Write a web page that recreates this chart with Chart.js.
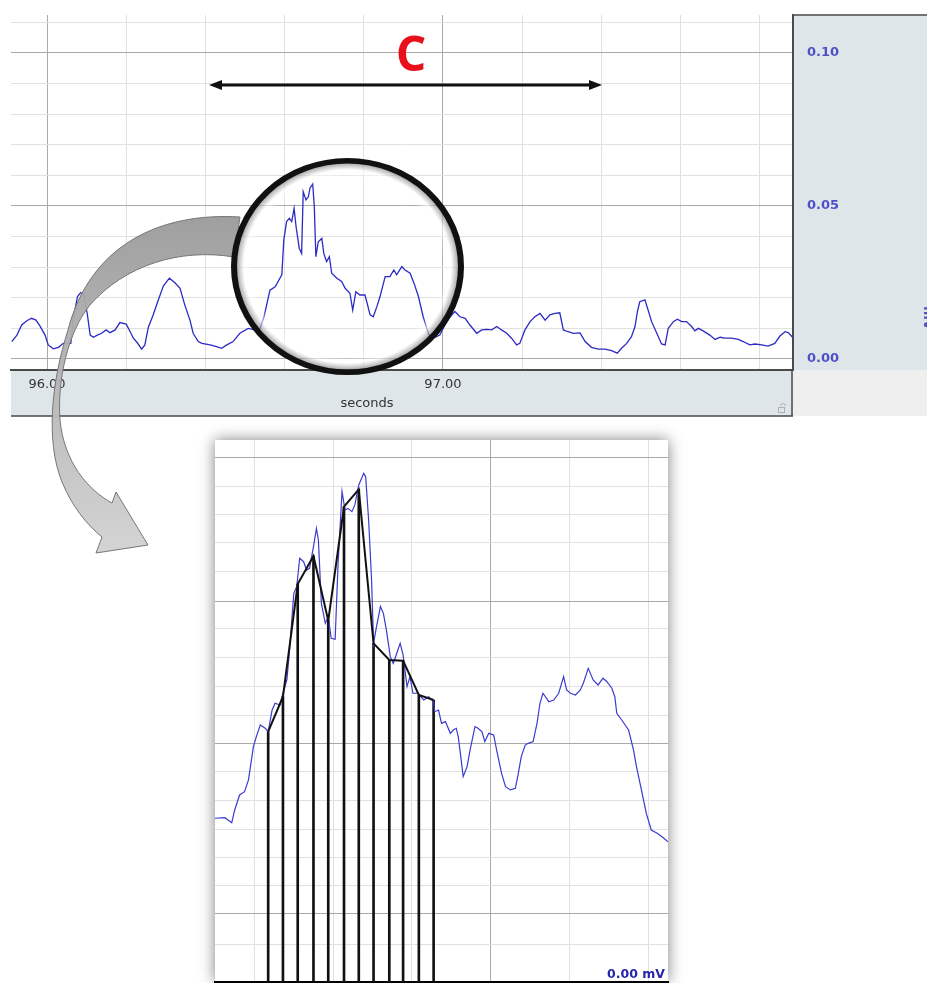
<!DOCTYPE html>
<html>
<head>
<meta charset="utf-8">
<script src="https://cdn.jsdelivr.net/npm/chart.js@4.4.1/dist/chart.umd.min.js"></script>
<style>
    html, body { margin: 0; padding: 0; background: #fff; }
    #wrap { position: relative; width: 927px; height: 983px; overflow: hidden; }
    #main { position: absolute; left: 0; top: 0; }
    #zoom { position: absolute; left: 195px; top: 420px; }
</style>
</head>
<body>
<div id="wrap">
    <canvas id="main" width="927" height="983" style="width:927px;height:983px"></canvas>
    <canvas id="zoom" width="493" height="563" style="width:493px;height:563px"></canvas>
</div>
<script>
// recording, seconds / mV
const topTime = [95.911, 95.924, 95.936, 95.949, 95.961, 95.972, 95.982, 95.995, 96.003, 96.016, 96.029, 96.041, 96.060, 96.068, 96.077, 96.085, 96.093, 96.102, 96.109, 96.117, 96.127, 96.138, 96.149, 96.159, 96.172, 96.184, 96.200, 96.210, 96.218, 96.228, 96.239, 96.247, 96.256, 96.268, 96.281, 96.294, 96.309, 96.323, 96.336, 96.348, 96.361, 96.369, 96.382,
    96.391, 96.412, 96.428, 96.441, 96.454, 96.470, 96.487, 96.508, 96.525, 96.538, 96.548, 96.563, 96.576, 96.593, 96.598, 96.605, 96.612, 96.618, 96.624, 96.629, 96.637, 96.643, 96.647, 96.654, 96.660, 96.664, 96.671, 96.675, 96.679, 96.685, 96.694, 96.699, 96.706, 96.713, 96.719, 96.732, 96.744, 96.753, 96.765, 96.772, 96.780, 96.790, 96.803, 96.816, 96.824, 96.833, 96.841, 96.854, 96.866, 96.876, 96.883, 96.896, 96.904, 96.917, 96.927, 96.938, 96.950, 96.963,
    96.967, 96.980, 96.992, 97.005, 97.018, 97.030, 97.043, 97.056, 97.068, 97.085, 97.098, 97.110, 97.123, 97.136, 97.148, 97.161, 97.173, 97.186, 97.194, 97.207, 97.220, 97.232, 97.245, 97.258, 97.270, 97.283, 97.295, 97.304, 97.316, 97.329, 97.346,
    97.359, 97.375, 97.392, 97.409, 97.426, 97.440, 97.451, 97.464, 97.476, 97.485, 97.491, 97.497, 97.510, 97.518, 97.527, 97.540, 97.552, 97.561, 97.569, 97.582, 97.592, 97.603, 97.615, 97.628, 97.636, 97.645, 97.657, 97.674, 97.687, 97.700, 97.712, 97.729, 97.746, 97.758, 97.775, 97.788, 97.805, 97.821, 97.838, 97.851, 97.864, 97.872, 97.883];
const topVolt = [0.0057, 0.0078, 0.0111, 0.0125, 0.0133, 0.0127, 0.0108, 0.0078, 0.0046, 0.0033, 0.0038, 0.0051, 0.0051, 0.0144, 0.0204, 0.0217, 0.0209, 0.0144, 0.0078, 0.0071, 0.0078, 0.0084, 0.0095, 0.0086, 0.0095, 0.0119, 0.0114, 0.0089, 0.0068, 0.0053, 0.0032, 0.0046, 0.0104, 0.0144, 0.0193, 0.0239, 0.0264, 0.0249, 0.0231, 0.0176, 0.0127, 0.0084, 0.0057,
    0.0051, 0.0046, 0.0040, 0.0035, 0.0046, 0.0057, 0.0084, 0.0100, 0.0095, 0.0100, 0.0138, 0.0225, 0.0236, 0.0275, 0.0389, 0.0449, 0.0460, 0.0449, 0.0492, 0.0432, 0.0362, 0.0345, 0.0547, 0.0520, 0.0530, 0.0558, 0.0572, 0.0498, 0.0334, 0.0383, 0.0394, 0.0345, 0.0318, 0.0334, 0.0280, 0.0264, 0.0253, 0.0231, 0.0215, 0.0160, 0.0220, 0.0209, 0.0209, 0.0144, 0.0138, 0.0171, 0.0204, 0.0269, 0.0269, 0.0291, 0.0275, 0.0302, 0.0291, 0.0280, 0.0247, 0.0204, 0.0138, 0.0084,
    0.0075, 0.0071, 0.0078, 0.0111, 0.0138, 0.0155, 0.0138, 0.0133, 0.0111, 0.0084, 0.0095, 0.0097, 0.0095, 0.0106, 0.0095, 0.0084, 0.0068, 0.0046, 0.0051, 0.0095, 0.0122, 0.0138, 0.0149, 0.0127, 0.0144, 0.0149, 0.0151, 0.0095, 0.0089, 0.0084, 0.0085,
    0.0057, 0.0038, 0.0032, 0.0032, 0.0027, 0.0019, 0.0035, 0.0051, 0.0073, 0.0106, 0.0155, 0.0187, 0.0193, 0.0160, 0.0122, 0.0084, 0.0049, 0.0046, 0.0100, 0.0122, 0.0130, 0.0122, 0.0122, 0.0106, 0.0092, 0.0100, 0.0092, 0.0078, 0.0064, 0.0071, 0.0068, 0.0068, 0.0064, 0.0057, 0.0046, 0.0049, 0.0046, 0.0042, 0.0051, 0.0075, 0.0089, 0.0086, 0.0071];

const xGrid = [96.0, 96.2, 96.4, 96.6, 96.8, 97.0, 97.2, 97.4, 97.6, 97.8];
const xLabelTicks = [96.0, 97.0];
const yGrid = [0, 0.01, 0.02, 0.03, 0.04, 0.05, 0.06, 0.07, 0.08, 0.09, 0.10, 0.11];
const yLabelTicks = [0, 0.05, 0.10];

// zoomed excerpt
const insetTime = [96.520, 96.530, 96.537, 96.540, 96.545, 96.550, 96.554, 96.559, 96.562, 96.566, 96.571, 96.574, 96.578, 96.581, 96.586, 96.589, 96.593, 96.596, 96.600, 96.603, 96.606, 96.610, 96.613, 96.616, 96.620, 96.623, 96.625, 96.628, 96.632, 96.635, 96.638, 96.642, 96.645, 96.649, 96.652, 96.655, 96.659, 96.662, 96.666, 96.671, 96.673, 96.676, 96.679, 96.681, 96.684, 96.688, 96.691, 96.694, 96.698, 96.701, 96.704, 96.708, 96.711, 96.715, 96.718, 96.721, 96.726, 96.732, 96.737, 96.742, 96.743, 96.747, 96.750, 96.754, 96.759, 96.762, 96.765, 96.767, 96.770, 96.772, 96.776, 96.779, 96.784, 96.787, 96.791, 96.794, 96.798, 96.803, 96.806, 96.811, 96.815, 96.820, 96.825, 96.828, 96.831, 96.835, 96.838, 96.843, 96.847, 96.850, 96.853, 96.859, 96.864, 96.869, 96.874, 96.877, 96.881, 96.886, 96.891, 96.894, 96.899, 96.904, 96.909, 96.914, 96.918, 96.923, 96.926, 96.928, 96.933, 96.940, 96.945, 96.948, 96.953, 96.958, 96.963, 96.969, 96.974, 96.980];
const insetVolt = [0.01145, 0.01149, 0.01114, 0.01203, 0.01308, 0.01331, 0.01413, 0.01646, 0.01716, 0.01797, 0.01774, 0.01751, 0.01902, 0.01949, 0.01937, 0.02019, 0.02112, 0.02345, 0.02718, 0.02765, 0.02963, 0.02939, 0.02881, 0.02893, 0.03044, 0.03172, 0.03091, 0.02648, 0.02508, 0.02555, 0.02403, 0.02396, 0.02928, 0.03429, 0.03301, 0.03312, 0.03289, 0.03336, 0.03476, 0.03557, 0.03534, 0.03231, 0.02811, 0.02368, 0.02485, 0.02625, 0.02578, 0.02462, 0.02275, 0.02228, 0.02287, 0.02368, 0.02287, 0.02065, 0.02135, 0.02019, 0.02019, 0.01972, 0.01995, 0.01960, 0.01890, 0.01902, 0.01809, 0.01821, 0.01739, 0.01762, 0.01774, 0.01716, 0.01552, 0.01436, 0.01506, 0.01622, 0.01786, 0.01774, 0.01751, 0.01681, 0.01739, 0.01727, 0.01622, 0.01459, 0.01366, 0.01343, 0.01354, 0.01459, 0.01576, 0.01657, 0.01669, 0.01681, 0.01809, 0.01949, 0.02019, 0.01960, 0.01972, 0.02019, 0.02135, 0.02042, 0.02019, 0.02007, 0.02042, 0.02089, 0.02193, 0.02112, 0.02077, 0.02124, 0.02100, 0.02054, 0.01995, 0.01879, 0.01832, 0.01762, 0.01622, 0.01506, 0.01343, 0.01179, 0.01063, 0.01040, 0.01016, 0.00981];

// sampled points (black polyline + verticals)
const sampleTime = [96.574, 96.589, 96.604, 96.620, 96.635, 96.651, 96.666, 96.681, 96.697, 96.711, 96.727, 96.742];
const sampleVolt = [0.01751, 0.01995, 0.02783, 0.02979, 0.02527, 0.03324, 0.03445, 0.02368, 0.02252, 0.02247, 0.02007, 0.01972];

const insetXGrid = [96.56, 96.64, 96.72, 96.80, 96.88, 96.96];
const insetXMajor = [96.80];
const insetYGrid = [0.00259, 0.00476, 0.00678, 0.00874, 0.01063, 0.01266, 0.01469, 0.01671, 0.01867, 0.02063, 0.02266, 0.02469, 0.02664, 0.02867, 0.03070, 0.03266, 0.03462, 0.03671];
const insetYMajor = [0.00476, 0.01671, 0.02664, 0.03671];

const has = (arr, v) => arr.some(a => Math.abs(a - v) < 1e-7);
const MINOR = '#e1e1e1', MAJOR = '#a9a9a9';
const BLUE_TXT = '#4f4fc8';
const FONT = 'DejaVu Sans';

// --- overlay drawing for the top chart
function drawBand(ctx) {
    ctx.save();
    ctx.beginPath();
    ctx.moveTo(240, 217);
    ctx.bezierCurveTo(160, 212, 90, 245, 68, 330);
    ctx.bezierCurveTo(52, 380, 45, 440, 62, 482);
    ctx.bezierCurveTo(72, 506, 86, 524, 102, 537);
    ctx.lineTo(96, 553);
    ctx.lineTo(148, 545);
    ctx.lineTo(116, 492);
    ctx.lineTo(112, 503);
    ctx.bezierCurveTo(88, 490, 64, 462, 60, 420);
    ctx.bezierCurveTo(57, 380, 68, 332, 90, 305);
    ctx.bezierCurveTo(125, 265, 180, 248, 234, 257);
    ctx.closePath();
    const g = ctx.createLinearGradient(0, 215, 0, 555);
    g.addColorStop(0, '#9a9a9a');
    g.addColorStop(1, '#d2d2d2');
    ctx.globalAlpha = 0.95;
    ctx.fillStyle = g;
    ctx.fill();
    ctx.globalAlpha = 1;
    ctx.strokeStyle = '#777';
    ctx.lineWidth = 1;
    ctx.stroke();
    ctx.restore();
}

function drawLens(ctx) {
    const cx = 347.5, cy = 266.5, rx = 116.5, ry = 108.5;
    ctx.save();
    ctx.translate(cx, cy);
    ctx.scale(1, ry / rx);
    const r = rx - 3;
    const g = ctx.createRadialGradient(0, 0, r - 20, 0, 0, r);
    g.addColorStop(0, 'rgba(255,255,255,0)');
    g.addColorStop(0.5, 'rgba(255,255,255,0.6)');
    g.addColorStop(0.8, 'rgba(150,150,150,0.65)');
    g.addColorStop(1, 'rgba(50,50,50,0.95)');
    ctx.fillStyle = g;
    ctx.beginPath();
    ctx.arc(0, 0, r, 0, Math.PI * 2);
    ctx.fill();
    ctx.lineWidth = 6;
    ctx.strokeStyle = '#111';
    ctx.beginPath();
    ctx.arc(0, 0, r, 0, Math.PI * 2);
    ctx.stroke();
    ctx.restore();
}

function drawSpanArrow(ctx) {
    const y = 85, x0 = 209, x1 = 602;
    ctx.save();
    ctx.strokeStyle = '#111';
    ctx.fillStyle = '#111';
    ctx.lineWidth = 3;
    ctx.beginPath();
    ctx.moveTo(x0 + 8, y);
    ctx.lineTo(x1 - 8, y);
    ctx.stroke();
    ctx.beginPath();
    ctx.moveTo(x0, y); ctx.lineTo(x0 + 13, y - 5); ctx.lineTo(x0 + 13, y + 5); ctx.closePath();
    ctx.fill();
    ctx.beginPath();
    ctx.moveTo(x1, y); ctx.lineTo(x1 - 13, y - 5); ctx.lineTo(x1 - 13, y + 5); ctx.closePath();
    ctx.fill();
    ctx.font = 'bold 48px "Open Sans"';
    ctx.fillStyle = '#e8101a';
    ctx.textAlign = 'center';
    ctx.textBaseline = 'alphabetic';
    ctx.fillText('C', 411, 71);
    ctx.restore();
}

const panels = {
    id: 'panels',
    beforeDraw(chart) {
        const ctx = chart.ctx;
        const a = chart.chartArea;
        ctx.save();
        ctx.fillStyle = '#fff';
        ctx.fillRect(0, 0, chart.width, chart.height);
        ctx.fillStyle = '#dfe6e9';
        ctx.fillRect(a.left, a.bottom, a.right - a.left, 46);
        ctx.fillRect(a.right, a.top, chart.width - a.right, a.bottom - a.top);
        ctx.fillStyle = '#efefef';
        ctx.fillRect(a.right, a.bottom, chart.width - a.right, 46);
        ctx.strokeStyle = '#4a4a4a';
        ctx.lineWidth = 1.5;
        ctx.beginPath();
        ctx.moveTo(a.left, a.bottom + 46); ctx.lineTo(a.right, a.bottom + 46);
        ctx.moveTo(a.right - 1, a.bottom); ctx.lineTo(a.right - 1, a.bottom + 46);
        ctx.moveTo(a.right, a.top); ctx.lineTo(chart.width, a.top);
        ctx.stroke();
        ctx.restore();
    },
    afterDraw(chart) {
        const ctx = chart.ctx;
        ctx.save();
        ctx.fillStyle = '#333';
        ctx.font = '13px "' + FONT + '"';
        ctx.textAlign = 'center';
        ctx.textBaseline = 'middle';
        ctx.fillText('seconds', 367, 404);
        // axis unit, mostly off the edge
        ctx.translate(927, 318);
        ctx.rotate(Math.PI / 2);
        ctx.fillStyle = BLUE_TXT;
        ctx.font = 'bold 13px "' + FONT + '"';
        ctx.fillText('mV', 0, 0);
        ctx.restore();
        // tiny lock glyph
        ctx.save();
        ctx.strokeStyle = '#b0b0b0';
        ctx.lineWidth = 1;
        ctx.strokeRect(778.5, 407.5, 6, 5);
        ctx.beginPath();
        ctx.arc(783, 406, 2.5, Math.PI, 0);
        ctx.stroke();
        ctx.restore();

        drawBand(ctx);
        drawLens(ctx);
        drawSpanArrow(ctx);
    }
};

new Chart(document.getElementById('main'), {
    type: 'line',
    data: {
        datasets: [{
            data: topTime.map((t, i) => ({ x: t, y: topVolt[i] })),
            borderColor: '#2b2bc4',
            borderWidth: 1.3,
            pointRadius: 0,
            tension: 0
        }]
    },
    options: {
        responsive: false,
        animation: false,
        events: [],
        layout: { padding: { left: 11, top: 15, right: 0, bottom: 567 } },
        plugins: { legend: { display: false }, tooltip: { enabled: false } },
        scales: {
            x: {
                type: 'linear',
                min: 95.909,
                max: 97.884,
                offset: false,
                afterBuildTicks: s => { s.ticks = xGrid.map(v => ({ value: v })); },
                afterFit: s => { s.height = 46; s.paddingLeft = 0; s.paddingRight = 0; },
                grid: {
                    drawTicks: false,
                    color: c => has(xLabelTicks, c.tick.value) ? MAJOR : MINOR
                },
                border: { display: true, color: '#4a4a4a', width: 2 },
                ticks: {
                    autoSkip: false,
                    maxRotation: 0,
                    padding: 7,
                    color: '#333',
                    font: { family: FONT, size: 13 },
                    callback: v => has(xLabelTicks, v) ? v.toFixed(2) : ''
                }
            },
            y: {
                type: 'linear',
                position: 'right',
                min: -0.0036,
                max: 0.1124,
                afterBuildTicks: s => { s.ticks = yGrid.map(v => ({ value: v })); },
                // keep label overflow from pushing the plot down
                afterFit: s => { s.width = 134; s.paddingTop = 0; s.paddingBottom = 0; },
                grid: {
                    drawTicks: false,
                    color: c => has(yLabelTicks, c.tick.value) ? MAJOR : MINOR
                },
                border: { display: true, color: '#4a4a4a', width: 2 },
                ticks: {
                    autoSkip: false,
                    padding: 14,
                    color: BLUE_TXT,
                    font: { family: FONT, size: 13, weight: 'bold' },
                    callback: v => has(yLabelTicks, v) ? v.toFixed(2) : ''
                }
            }
        }
    },
    plugins: [panels]
});

const insetFrame = {
    id: 'insetFrame',
    beforeDraw(chart) {
        const ctx = chart.ctx;
        const a = chart.chartArea;
        ctx.save();
        ctx.shadowColor = 'rgba(0,0,0,0.5)';
        ctx.shadowBlur = 14;
        ctx.fillStyle = '#fff';
        ctx.fillRect(a.left, a.top, a.right - a.left, a.bottom - a.top);
        ctx.restore();
    },
    afterDraw(chart) {
        const ctx = chart.ctx;
        const a = chart.chartArea;
        ctx.save();
        ctx.fillStyle = '#2626a8';
        ctx.font = 'bold 12.5px "' + FONT + '"';
        ctx.textAlign = 'right';
        ctx.textBaseline = 'alphabetic';
        ctx.fillText('0.00 mV', a.right - 3, a.bottom - 4);
        ctx.restore();
    }
};

new Chart(document.getElementById('zoom'), {
    type: 'line',
    data: {
        datasets: [
            {
                type: 'bar',
                data: sampleTime.map((t, i) => ({ x: t, y: sampleVolt[i] })),
                backgroundColor: '#111',
                barThickness: 2,
                order: 3
            },
            {
                data: insetTime.map((t, i) => ({ x: t, y: insetVolt[i] })),
                borderColor: '#3b3bd0',
                borderWidth: 1.2,
                pointRadius: 0,
                tension: 0,
                order: 2
            },
            {
                data: sampleTime.map((t, i) => ({ x: t, y: sampleVolt[i] })),
                borderColor: '#111',
                borderWidth: 2,
                pointRadius: 0,
                tension: 0,
                order: 1
            }
        ]
    },
    options: {
        responsive: false,
        animation: false,
        events: [],
        layout: { padding: { left: 20, top: 20, right: 20, bottom: 1 } },
        plugins: { legend: { display: false }, tooltip: { enabled: false } },
        scales: {
            x: {
                type: 'linear',
                min: 96.52,
                max: 96.98,
                offset: false,
                afterBuildTicks: s => { s.ticks = insetXGrid.map(v => ({ value: v })); },
                afterFit: s => { s.height = 0; },
                ticks: { display: false },
                grid: {
                    offset: false,
                    drawTicks: false,
                    color: c => has(insetXMajor, c.tick.value) ? MAJOR : MINOR
                },
                border: { display: true, color: '#000', width: 2.5 }
            },
            y: {
                type: 'linear',
                min: 0,
                max: 0.0379,
                afterBuildTicks: s => { s.ticks = insetYGrid.map(v => ({ value: v })); },
                afterFit: s => { s.width = 0; },
                ticks: { display: false },
                grid: {
                    drawTicks: false,
                    color: c => has(insetYMajor, c.tick.value) ? MAJOR : MINOR
                },
                border: { display: false }
            }
        }
    },
    plugins: [insetFrame]
});
</script>
</body>
</html>
